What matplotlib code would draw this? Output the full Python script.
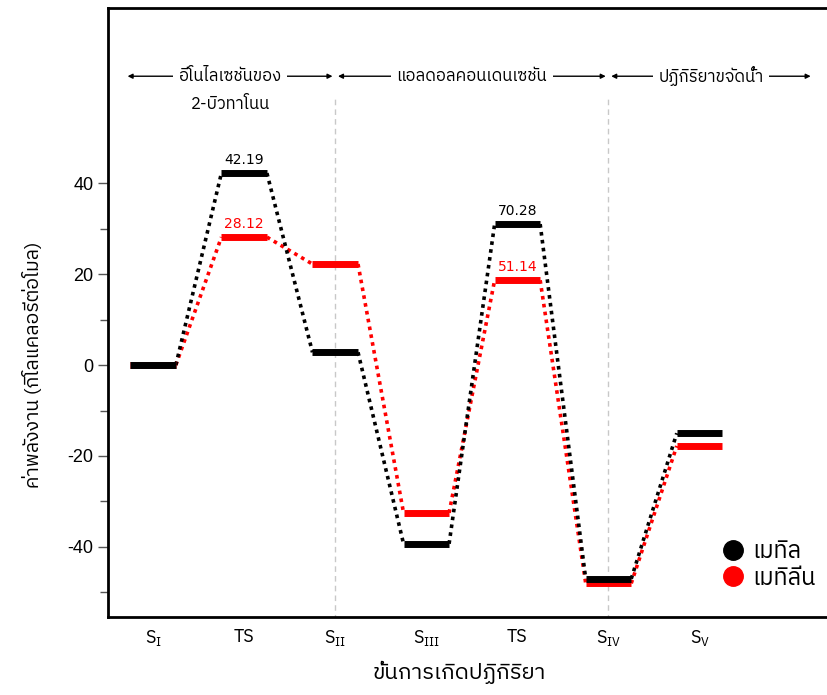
"""
Energy profile for the enolization / aldol condensation / dehydration steps
of 2-butanone, comparing the methyl and methylene pathways.
"""

import matplotlib
matplotlib.use('Agg')
import matplotlib.pyplot as plt
from matplotlib import font_manager
from matplotlib.ft2font import FT2Font
from matplotlib.lines import Line2D

# reaction steps (x positions 1..7)
steps = [r'$\mathregular{S_{I}}$', 'TS', r'$\mathregular{S_{II}}$', r'$\mathregular{S_{III}}$',
         'TS', r'$\mathregular{S_{IV}}$', r'$\mathregular{S_{V}}$']

# relative energies (kcal/mol); second TS is given as barrier from S_III
methyl_energy = [0.0, 42.19, 2.8, -39.3, None, -47.0, -15.0]
methyl_barrier2 = 70.28
methylene_energy = [0.0, 28.12, 22.2, -32.5, None, -48.0, -17.8]
methylene_barrier2 = 51.14

methyl_energy[4] = methyl_energy[3] + methyl_barrier2
methylene_energy[4] = methylene_energy[3] + methylene_barrier2

yticks_major = [-40, -20, 0, 20, 40]
yticks_minor = [-50, -30, -10, 10, 30]

series_names = ['เมทิล', 'เมทิลีน']
stage_labels = ['อีโนไลเซชันของ', 'แอลดอลคอนเดนเซชัน', 'ปฏิกิริยาขจัดน้ำ']
stage_sub = '2-บิวทาโนน'
ylabel = 'ค่าพลังงาน (กิโลแคลอรีต่อโมล)'
xlabel = 'ขั้นการเกิดปฏิกิริยา'


def find_thai_font():
    # look for any installed font that actually has Thai glyphs
    best = None
    for f in font_manager.fontManager.ttflist:
        try:
            cmap = FT2Font(f.fname).get_charmap()
        except Exception:
            continue
        if 0x0E01 in cmap and 0x0E34 in cmap:
            if 'Thai' in f.name:
                return f.name
            if best is None:
                best = f.name
    return best


thai = find_thai_font()
families = [thai, 'DejaVu Sans'] if thai else ['DejaVu Sans']
plt.rcParams['font.family'] = families
plt.rcParams['axes.unicode_minus'] = False

fig = plt.figure(figsize=(8.27, 6.95), dpi=100)
ax = fig.add_axes([108 / 827, 78 / 695, 730 / 827, 609 / 695])

xs = list(range(1, len(steps) + 1))
half = 0.25


def draw_profile(energy, color):
    for i in range(len(xs) - 1):
        ax.plot([xs[i] + half, xs[i + 1] - half], [energy[i], energy[i + 1]],
                linestyle=(0, (1, 1.2)), color=color, linewidth=2.6, zorder=2)
    for x, e in zip(xs, energy):
        ax.plot([x - half, x + half], [e, e], color=color, linewidth=5,
                solid_capstyle='butt', zorder=3)


draw_profile(methylene_energy, 'red')
draw_profile(methyl_energy, 'black')

# barrier labels
ax.text(xs[1], methyl_energy[1] + 1.3, f'{methyl_energy[1]:.2f}', ha='center', va='bottom',
        fontsize=10, family='DejaVu Sans', color='black')
ax.text(xs[1], methylene_energy[1] + 1.3, f'{methylene_energy[1]:.2f}', ha='center', va='bottom',
        fontsize=10, family='DejaVu Sans', color='red')
ax.text(xs[4], methyl_energy[4] + 1.3, f'{methyl_barrier2:.2f}', ha='center', va='bottom',
        fontsize=10, family='DejaVu Sans', color='black')
ax.text(xs[4], methylene_energy[4] + 1.3, f'{methylene_barrier2:.2f}', ha='center', va='bottom',
        fontsize=10, family='DejaVu Sans', color='red')

# stage separators
for xv in (3, 6):
    ax.plot([xv, xv], [-56, 59.3], color='#c8c8c8', linestyle=(0, (4, 3)), linewidth=1, zorder=1)

# stage arrows with captions
arrow_y = 63.5
spans = [(0.72, 2.97), (3.03, 5.97), (6.03, 8.22)]
for (a, b), label in zip(spans, stage_labels):
    ax.annotate('', xy=(b, arrow_y), xytext=(a, arrow_y),
                arrowprops=dict(arrowstyle='<|-|>', color='black', lw=1,
                                mutation_scale=7, shrinkA=0, shrinkB=0))
    ax.text((a + b) / 2, arrow_y, label, ha='center', va='center', fontsize=12,
            bbox=dict(facecolor='white', edgecolor='none', pad=4))
ax.text(sum(spans[0]) / 2, 57.4, stage_sub, ha='center', va='center', fontsize=12)

ax.set_xlim(0.505, 8.52)
ax.set_ylim(-55.4, 78.5)
ax.set_xticks(xs)
ax.set_xticklabels(steps, fontsize=13)
ax.tick_params(axis='x', length=0, pad=8)
ax.set_yticks(yticks_major)
ax.set_yticklabels([str(v) for v in yticks_major], family=['Liberation Sans', 'DejaVu Sans'])
ax.set_yticks(yticks_minor, minor=True)
ax.tick_params(axis='y', which='major', length=7, width=1, labelsize=13, color='#555555')
ax.tick_params(axis='y', which='minor', length=6, width=1, color='#555555')

for side in ('left', 'bottom', 'top'):
    ax.spines[side].set_linewidth(2)
ax.spines['right'].set_visible(False)

ax.set_ylabel(ylabel, fontsize=14)
ax.yaxis.set_label_coords(-0.089, 0.414)
ax.set_xlabel(xlabel, fontsize=16)
ax.xaxis.set_label_coords(0.481, -0.072)

handles = [Line2D([], [], marker='o', linestyle='none', color='black', markersize=14),
           Line2D([], [], marker='o', linestyle='none', color='red', markersize=14)]
fig.legend(handles, series_names, loc='lower left', bbox_to_anchor=(700 / 827, 84 / 695),
           frameon=False, fontsize=17, handlelength=1.0, handletextpad=0.3, labelspacing=0.15)

fig.savefig('out.png', dpi=100)
